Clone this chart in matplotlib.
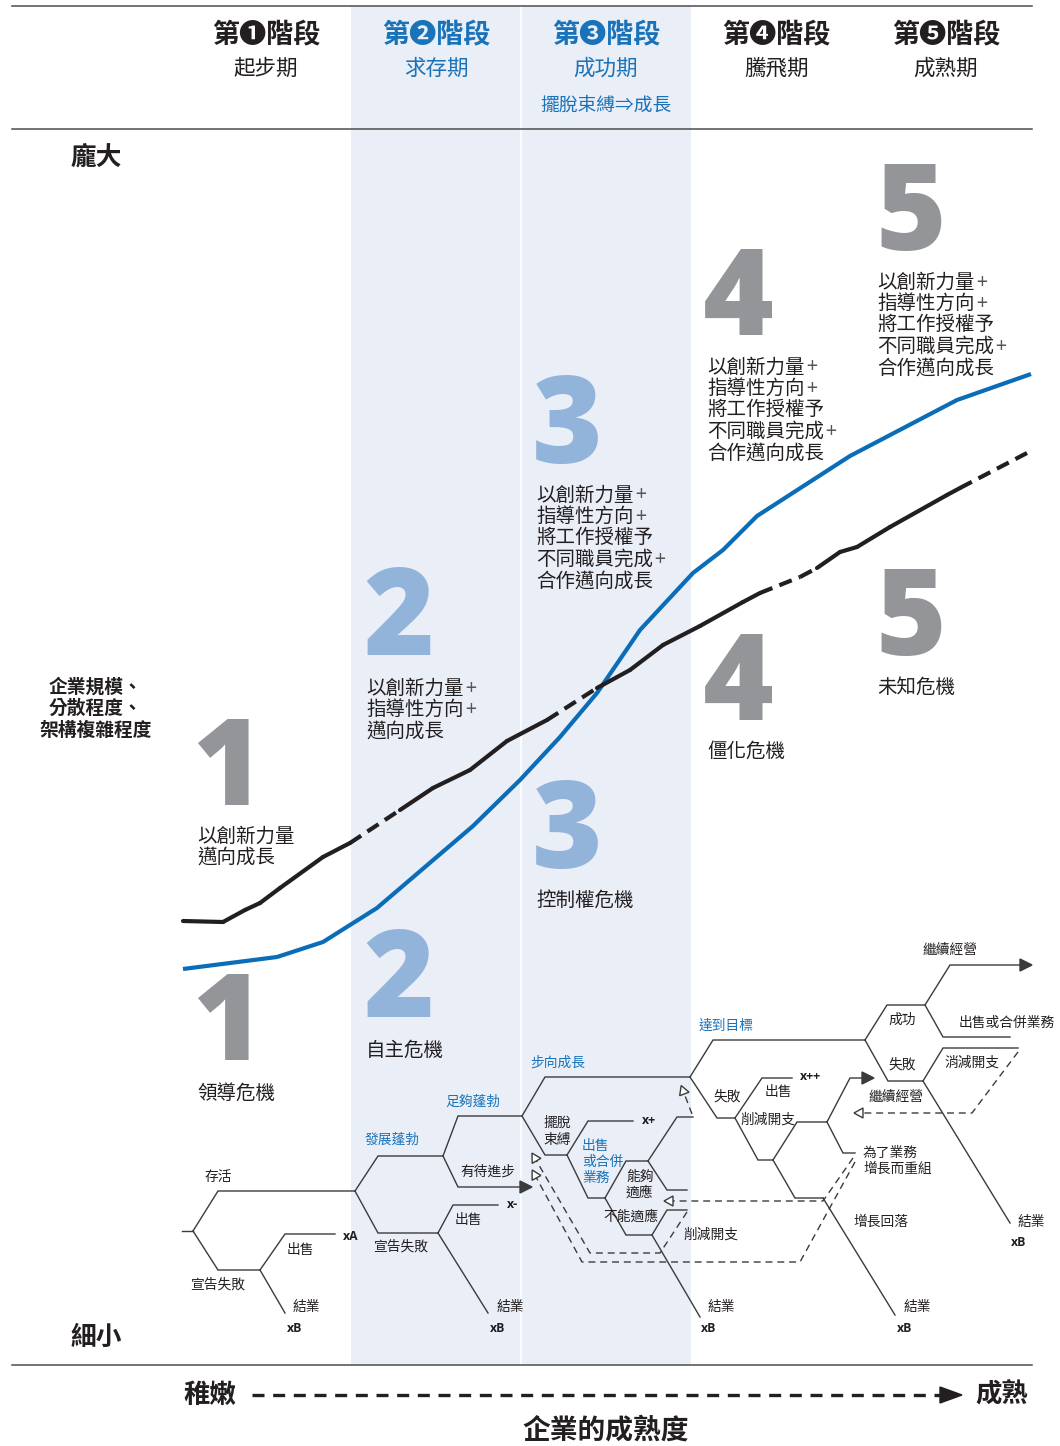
import matplotlib
matplotlib.use('Agg')
import matplotlib.pyplot as plt
from matplotlib.patches import Polygon, Rectangle
import numpy as np

# ---------------- data ----------------
stage_titles = ['第❶階段', '第❷階段', '第❸階段', '第❹階段', '第❺階段']
stage_subtitles = ['起步期', '求存期', '成功期', '騰飛期', '成熟期']
stage_extra = '擺脫束縛⇒成長'
stage_is_blue = [False, True, True, False, False]
stage_centers = [266, 436, 606, 776, 946]

y_top_label = '龐大'
y_mid_label = ['企業規模、', '分散程度、', '架構複雜程度']
y_bottom_label = '細小'
x_left_label = '稚嫩'
x_right_label = '成熟'
x_title = '企業的成熟度'

# growth curve (blue) and crisis curve (black)
blue_x = [183, 277, 323, 377, 473, 520, 560, 597, 640, 693, 723, 757, 850, 957, 1031]
blue_y = [969, 957, 942, 908, 826, 780, 737, 693, 630, 573, 550, 516, 456, 400, 374]
black_x = [183, 223, 245, 260, 280, 323, 350, 400, 433, 470, 507, 547, 597, 630, 663,
           700, 743, 760, 800, 817, 840, 857, 890, 947, 960, 1027]
black_y = [921, 922, 910, 903, 888, 857, 843, 810, 788, 770, 741, 720, 688, 670, 645,
           626, 602, 593, 577, 568, 552, 547, 527, 495, 488, 453]
black_dashed_spans = [(350, 400), (547, 597), (760, 817), (960, 1027)]

numbers = ['1', '2', '3', '4', '5']
number_is_blue = [False, True, True, False, False]
growth_texts = [
    ['以創新力量', '邁向成長'],
    ['以創新力量+', '指導性方向+', '邁向成長'],
    ['以創新力量+', '指導性方向+', '將工作授權予', '不同職員完成+', '合作邁向成長'],
    ['以創新力量+', '指導性方向+', '將工作授權予', '不同職員完成+', '合作邁向成長'],
    ['以創新力量+', '指導性方向+', '將工作授權予', '不同職員完成+', '合作邁向成長'],
]
crisis_texts = ['領導危機', '自主危機', '控制權危機', '僵化危機', '未知危機']
text_left = [197, 366, 536, 707, 877]
num_left = [192, 363, 532, 703, 875]
growth_num_base = [805, 655, 463, 335, 250]
growth_text_top = [836, 688, 495, 367, 282]
crisis_num_base = [1060, 1017, 868, 720, 655]
crisis_text_y = [1093, 1050, 900, 751, 687]

# decision tree (pixel coordinates of the original diagram)
tree_solid = [
    [(182, 1231), (193, 1231)],
    [(193, 1231), (218, 1191), (355, 1191)],
    [(193, 1231), (218, 1270), (260, 1270)],
    [(260, 1270), (285, 1234), (335, 1234)],
    [(260, 1270), (285, 1313)],
    [(355, 1191), (378, 1156), (443, 1156)],
    [(355, 1191), (378, 1233), (438, 1233)],
    [(438, 1233), (453, 1205), (498, 1205)],
    [(438, 1233), (488, 1313)],
    [(443, 1156), (458, 1116), (522, 1116)],
    [(443, 1156), (458, 1187), (520, 1187)],
    [(522, 1116), (545, 1077), (690, 1077)],
    [(522, 1116), (545, 1155), (567, 1155)],
    [(567, 1155), (588, 1121), (633, 1121)],
    [(567, 1155), (588, 1198), (605, 1198)],
    [(605, 1198), (626, 1161), (648, 1161)],
    [(648, 1161), (677, 1117), (693, 1117)],
    [(648, 1161), (667, 1190), (687, 1190)],
    [(605, 1198), (626, 1235), (652, 1235)],
    [(652, 1235), (667, 1210), (687, 1210)],
    [(652, 1235), (700, 1317)],
    [(690, 1077), (713, 1040), (865, 1040)],
    [(690, 1077), (717, 1118), (735, 1118)],
    [(735, 1118), (762, 1078), (792, 1078)],
    [(735, 1118), (758, 1160), (773, 1160)],
    [(773, 1160), (797, 1122), (827, 1122)],
    [(827, 1122), (850, 1078), (862, 1078)],
    [(827, 1122), (843, 1153), (855, 1153)],
    [(773, 1160), (795, 1198), (823, 1198)],
    [(823, 1198), (895, 1315)],
    [(865, 1040), (887, 1005), (925, 1005)],
    [(925, 1005), (950, 965), (1020, 965)],
    [(925, 1005), (943, 1037), (1010, 1037)],
    [(865, 1040), (888, 1081), (923, 1081)],
    [(923, 1081), (943, 1048), (1018, 1048)],
    [(923, 1081), (1010, 1223)],
]
tree_dashed = [
    [(687, 1212), (660, 1253), (590, 1253), (536, 1160)],
    [(855, 1162), (800, 1262), (582, 1262), (536, 1177)],
    [(853, 1158), (823, 1201), (672, 1201)],
    [(1018, 1052), (972, 1113), (862, 1113)],
    [(692, 1114), (684, 1093)],
]
filled_arrows = [((520, 1187), (532, 1187)), ((862, 1078), (874, 1078)), ((1020, 965), (1032, 965))]

tree_labels = [
    ('存活', 205, 1177, False), ('宣告失敗', 190, 1285, False), ('出售', 287, 1250, False),
    ('結業', 293, 1307, False), ('發展蓬勃', 365, 1140, True), ('宣告失敗', 373, 1247, False),
    ('出售', 455, 1220, False), ('結業', 497, 1307, False), ('足夠蓬勃', 445, 1102, True),
    ('有待進步', 460, 1172, False), ('步向成長', 530, 1063, True), ('擺脫', 543, 1123, False),
    ('束縛', 543, 1140, False), ('出售', 582, 1146, True), ('或合併', 582, 1162, True),
    ('業務', 582, 1178, True), ('能夠', 626, 1177, False), ('適應', 626, 1193, False),
    ('不能適應', 603, 1217, False), ('削減開支', 683, 1235, False), ('結業', 708, 1307, False),
    ('達到目標', 699, 1026, True), ('失敗', 713, 1097, False), ('出售', 765, 1092, False),
    ('削減開支', 740, 1120, False), ('繼續經營', 868, 1097, False), ('為了業務', 863, 1153, False),
    ('增長而重組', 863, 1169, False), ('增長回落', 853, 1222, False), ('結業', 904, 1307, False),
    ('成功', 888, 1020, False), ('繼續經營', 922, 950, False), ('出售或合併業務', 959, 1023, False),
    ('失敗', 888, 1065, False), ('消減開支', 945, 1063, False), ('結業', 1018, 1222, False),
]
tree_marks = [
    ('xA', 343, 1236), ('xB', 287, 1328), ('x-', 507, 1204), ('xB', 490, 1328),
    ('x+', 642, 1121), ('xB', 701, 1328), ('x++', 800, 1077), ('xB', 897, 1328), ('xB', 1011, 1243),
]

# ---------------- style ----------------
CJK = ['Noto Sans CJK TC', 'DejaVu Sans']
DARK = '#231f20'
BLUE = '#1a73b9'
LINE_BLUE = '#0b6db7'
NUM_BLUE = '#93b4da'
NUM_GRAY = '#939598'
SHADE = '#e9eef7'
TREE = '#3b3b3b'

plt.rcParams['font.family'] = CJK

fig = plt.figure(figsize=(10.6, 14.46), dpi=100)
ax = fig.add_axes([0, 0, 1, 1])
ax.set_xlim(0, 1060)
ax.set_ylim(1446, 0)
ax.axis('off')

# shaded band for stages 2-3
ax.add_patch(Rectangle((351, 6), 340, 1359, facecolor=SHADE, edgecolor='none', zorder=0))
ax.plot([521, 521], [6, 1365], color='white', lw=1.2, zorder=0.5)

# rules
for yy in [6, 129, 1365]:
    ax.plot([12, 1032], [yy, yy], color='#4d4d4d', lw=1.1, zorder=1)

# header
for i, cx in enumerate(stage_centers):
    col = BLUE if stage_is_blue[i] else DARK
    ax.text(cx, 35, stage_titles[i], ha='center', va='center', fontsize=19.5, fontweight='heavy', color=col)
    ax.text(cx, 69, stage_subtitles[i], ha='center', va='center', fontsize=15.5, fontweight='medium', color=col)
ax.text(stage_centers[2], 105, stage_extra, ha='center', va='center', fontsize=13.5,
        fontweight='medium', color=BLUE)

# y labels
ax.text(96, 157, y_top_label, ha='center', va='center', fontsize=18.5, fontweight='heavy', color=DARK)
for k, s in enumerate(y_mid_label):
    ax.text(96, 687 + 21.5 * k, s, ha='center', va='center', fontsize=13.5, fontweight='heavy', color=DARK)
ax.text(96, 1337, y_bottom_label, ha='center', va='center', fontsize=18.5, fontweight='heavy', color=DARK)


def body_line(x, y, s):
    plus = s.endswith('+')
    main = s[:-1] if plus else s
    t = ax.text(x, y, main, ha='left', va='center', fontsize=14, fontweight='medium', color=DARK, zorder=3)
    if plus:
        ax.annotate('+', xy=(1.0, 0.5), xycoords=t, xytext=(1, 0), textcoords='offset points',
                    ha='left', va='center', fontsize=14, fontweight='light', color='#555555', zorder=3)


# big numbers and texts
for i in range(5):
    ncol = NUM_BLUE if number_is_blue[i] else NUM_GRAY
    for base in (growth_num_base[i], crisis_num_base[i]):
        ax.text(num_left[i], base, numbers[i], ha='left', va='baseline', fontsize=87,
                fontweight='heavy', family=['Open Sans', 'DejaVu Sans'], color=ncol, zorder=2)
    for k, s in enumerate(growth_texts[i]):
        body_line(text_left[i], growth_text_top[i] + 21.4 * k, s)
    body_line(text_left[i], crisis_text_y[i], crisis_texts[i])

# curves
ax.plot(blue_x, blue_y, color=LINE_BLUE, lw=3.0, solid_joinstyle='round', solid_capstyle='butt', zorder=4)
for j in range(len(black_x) - 1):
    xm = 0.5 * (black_x[j] + black_x[j + 1])
    dashed = any(a <= xm <= b for a, b in black_dashed_spans)
    ax.plot(black_x[j:j + 2], black_y[j:j + 2], color=DARK, lw=3.0,
            linestyle=(0, (3.2, 1.8)) if dashed else '-',
            solid_capstyle='round', dash_capstyle='butt', zorder=4)

# tree
for poly in tree_solid:
    xs, ys = zip(*poly)
    ax.plot(xs, ys, color=TREE, lw=1.0, zorder=3, solid_joinstyle='miter')
for poly in tree_dashed:
    xs, ys = zip(*poly)
    ax.plot(xs, ys, color=TREE, lw=1.0, linestyle=(0, (5, 3.5)), zorder=3)


def tri(tip, frm, length, half, filled, color=TREE):
    tip = np.array(tip, float)
    d = tip - np.array(frm, float)
    d /= np.linalg.norm(d)
    n = np.array([-d[1], d[0]])
    base = tip - d * length
    pts = [tip, base + n * half, base - n * half]
    ax.add_patch(Polygon(pts, closed=True, facecolor=color if filled else 'white',
                         edgecolor=color, lw=1.0, zorder=5))


for a, b in filled_arrows:
    tri(b, a, 12, 6, True)
for poly in tree_dashed:
    p_end = np.array(poly[-1], float)
    p_prev = np.array(poly[-2], float)
    d = p_end - p_prev
    d /= np.linalg.norm(d)
    tri(tuple(p_end + d * 8), tuple(p_end), 9, 5, False)

for s, x, y, isblue in tree_labels:
    ax.text(x, y, s, ha='left', va='center', fontsize=9.9, fontweight='medium',
            color=BLUE if isblue else DARK, zorder=6)
for s, x, y in tree_marks:
    ax.text(x, y, s, ha='left', va='center', fontsize=8.8, fontweight='bold',
            family=['Open Sans', 'DejaVu Sans'], color=DARK, zorder=6)

# bottom axis
ax.text(183, 1395, x_left_label, ha='left', va='center', fontsize=19, fontweight='heavy', color=DARK)
ax.text(1028, 1395, x_right_label, ha='right', va='center', fontsize=19, fontweight='heavy', color=DARK)
ax.plot([252, 942], [1395, 1395], color=DARK, lw=2.4, linestyle=(0, (3.6, 2.6)), dash_capstyle='butt')
tri((962, 1395), (940, 1395), 22, 8, True, color=DARK)
ax.text(606, 1430, x_title, ha='center', va='center', fontsize=20, fontweight='heavy', color=DARK)

fig.savefig('out.png', dpi=100)
